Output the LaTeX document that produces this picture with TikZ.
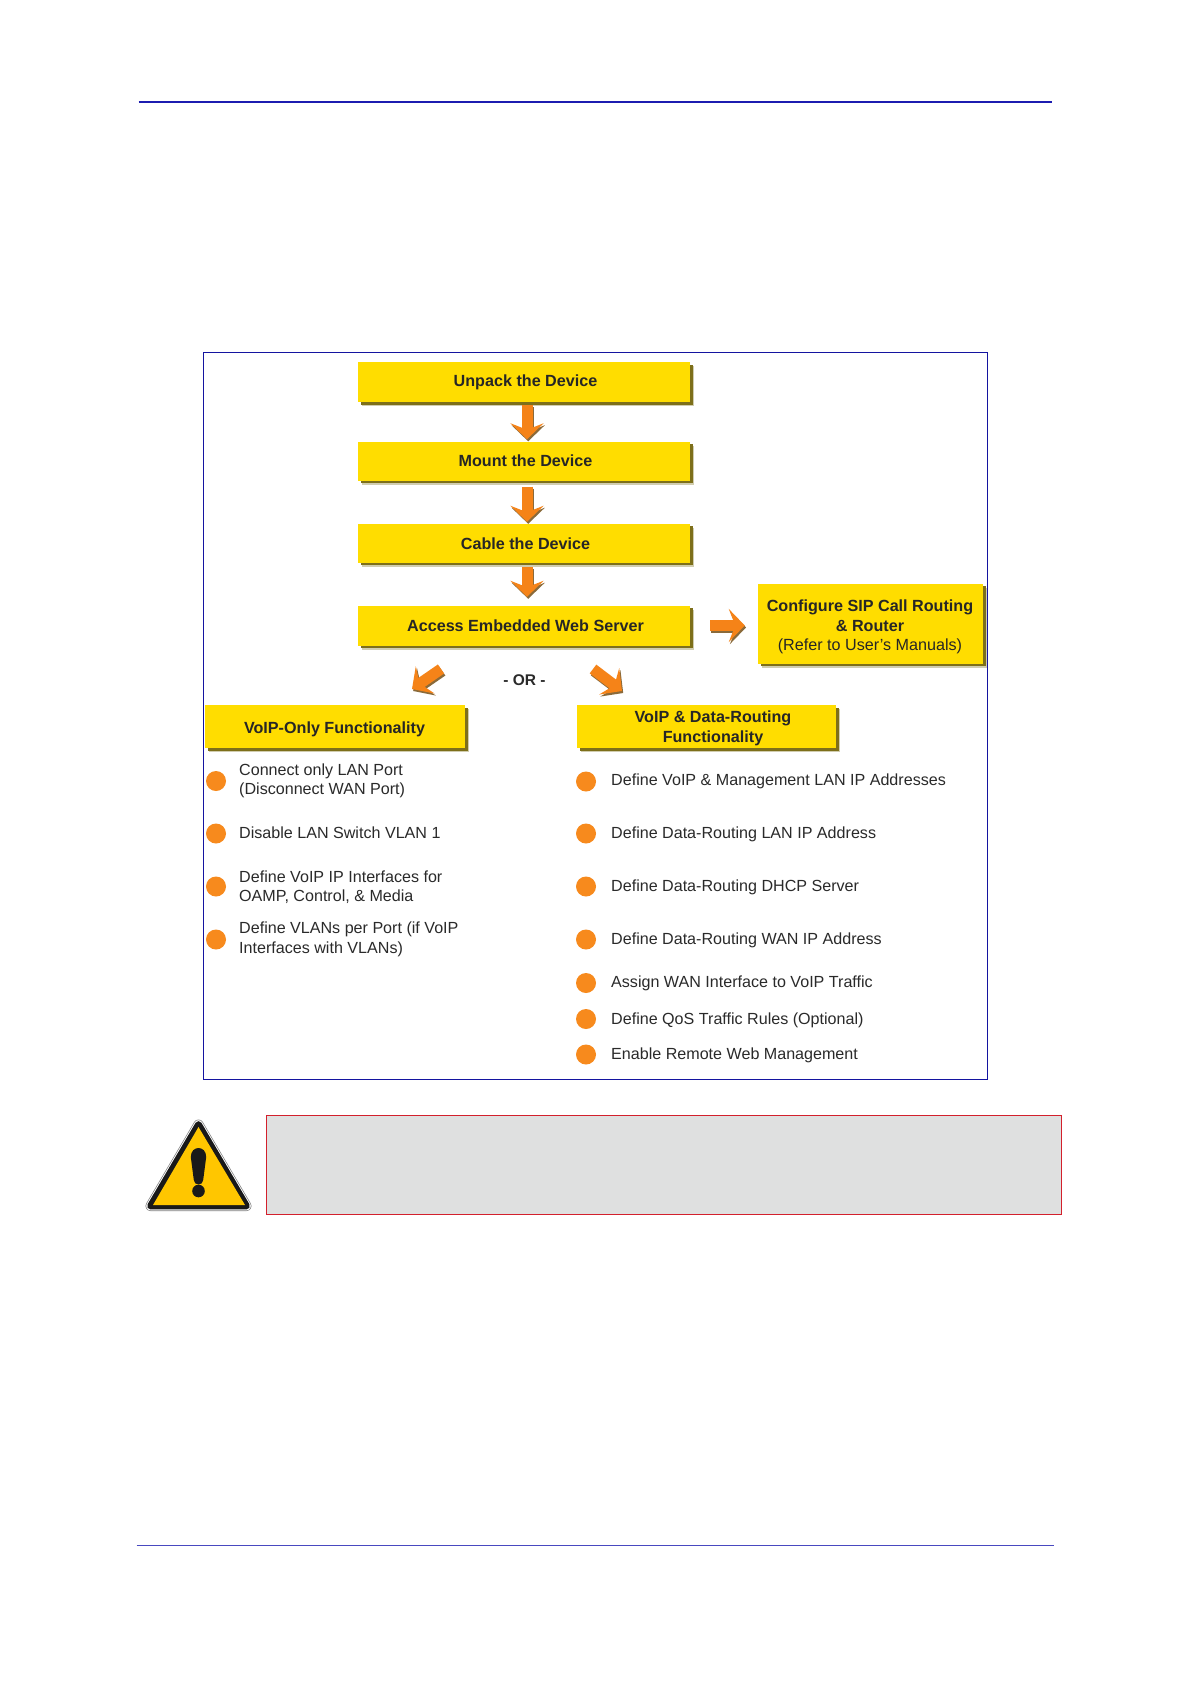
\documentclass[tikz,border=0pt]{standalone}
\usepackage{fontspec}
\setmainfont{Liberation Sans}
\usetikzlibrary{arrows.meta,shadows,calc}
\definecolor{boxyellow}{HTML}{FFDD00}
\definecolor{boxshadow}{HTML}{7D6F1A}
\definecolor{arroworange}{HTML}{F58318}
\definecolor{arrowshadow}{HTML}{8A6A3A}
\definecolor{bulletorange}{HTML}{F78A1D}
\definecolor{framecolor}{HTML}{1414A0}
\definecolor{ruleblue}{HTML}{1C1CB0}
\definecolor{notegrey}{HTML}{DFE0E0}
\definecolor{notered}{HTML}{D3202C}
\definecolor{signyellow}{HTML}{FFC600}
\definecolor{inktext}{HTML}{2A2A2A}
\tikzset{
  flowbox/.style={fill=boxyellow,inner sep=0pt,
    general shadow={shadow xshift=4pt,shadow yshift=-4pt,fill=boxshadow!35},
    general shadow={shadow xshift=2.6pt,shadow yshift=-2.6pt,fill=boxshadow}},
  boxtext/.style={inner sep=0pt,align=center,text=black!85,
    font=\fontsize{16.15}{19.6}\selectfont\bfseries},
  bulletdot/.style={circle,fill=bulletorange,minimum size=20pt,inner sep=0pt},
  itemtext/.style={anchor=west,inner sep=0pt,align=left,text=inktext,
    font=\fontsize{16.1}{19.5}\selectfont},
  blockbase/.style={line width=11pt,-{Stealth[length=16pt,width=33pt,inset=6.5pt]}},
  blockarrow/.style={blockbase,draw=arroworange},
  blockshade/.style={blockbase,draw=arrowshadow,
    transform canvas={xshift=1.2pt,yshift=-2pt}}
}
\begin{document}
\begin{tikzpicture}[x=1pt,y=-1pt]
\useasboundingbox[fill=white] (0,0) rectangle (1190,1684);
% page rules
\coordinate (topL) at (138.5,102); \coordinate (topR) at (1052,102);
\coordinate (botL) at (136.5,1545.5); \coordinate (botR) at (1054,1545.5);
\draw[ruleblue,line width=1.4pt] (topL) -- (topR);
\draw[ruleblue!80!white,line width=1pt] (botL) -- (botR);
% frame
\draw[framecolor,line width=1pt] (203.5,352.5) rectangle (987.5,1079.5);
% flow boxes
\node[flowbox,minimum width=332pt,minimum height=40pt] (unpack) at (524,382) {};
\node[flowbox,minimum width=332pt,minimum height=39pt] (mount) at (524,461) {};
\node[flowbox,minimum width=332pt,minimum height=39pt] (cable) at (524,543) {};
\node[flowbox,minimum width=332pt,minimum height=40pt] (access) at (524,625.5) {};
\node[flowbox,minimum width=225pt,minimum height=80pt] (config) at (870.5,623.5) {};
\node[flowbox,minimum width=260pt,minimum height=43pt] (voiponly) at (335,726.5) {};
\node[flowbox,minimum width=259pt,minimum height=43pt] (voipdata) at (706.5,726.5) {};
\node[boxtext] (unpackT) at ([xshift=1.5pt]unpack.center) {Unpack the Device};
\node[boxtext] (mountT) at ([xshift=1.5pt]mount.center) {Mount the Device};
\node[boxtext] (cableT) at ([xshift=1.5pt,yshift=-0.5pt]cable.center) {Cable the Device};
\node[boxtext] (accessT) at ([xshift=1.5pt,yshift=-0.5pt]access.center) {Access Embedded Web Server};
\node[boxtext] (configT) at ([xshift=-0.5pt,yshift=-3.5pt]config.center)
  {Configure SIP Call Routing\\ \& Router\\ \normalfont(Refer to User's Manuals)};
\node[boxtext] (voiponlyT) at ([xshift=-0.5pt,yshift=-3pt]voiponly.center) {VoIP-Only Functionality};
\node[boxtext] (voipdataT) at ([xshift=6.5pt,yshift=-2pt]voipdata.center) {VoIP \& Data-Routing\\ Functionality};
\node[inner sep=0pt,text=inktext,font=\fontsize{15.5}{18}\selectfont\bfseries] (ortext) at (524.5,680) {- OR -};
% connectors
\coordinate (dlS) at (441,669); \coordinate (dlE) at (412,689);
\coordinate (drS) at (593,669); \coordinate (drE) at (622,691);
\foreach \sty in {blockshade,blockarrow}{
  \draw[\sty] ([xshift=3pt,yshift=-3pt]unpack.south) -- ([xshift=3pt,yshift=2pt]mount.north);
  \draw[\sty] ([xshift=3pt,yshift=-6pt]mount.south) -- ([xshift=3pt,yshift=1.5pt]cable.north);
  \draw[\sty] ([xshift=3pt,yshift=-4.5pt]cable.south) -- ([xshift=3pt,yshift=8.5pt]access.north);
  \draw[\sty] ([xshift=20pt]access.east) -- ([xshift=-13pt]config.west |- access.east);
  \draw[\sty] (dlS) -- (dlE);
  \draw[\sty] (drS) -- (drE);
}
% left list
\node[bulletdot] (l1) at (216,781) {};
\node[itemtext] (lt1) at (239,781) {Connect only LAN Port\\(Disconnect WAN Port)};
\node[bulletdot] (l2) at (216,833.5) {};
\node[itemtext] (lt2) at (239,832.5) {Disable LAN Switch VLAN 1};
\node[bulletdot] (l3) at (216,886.5) {};
\node[itemtext] (lt3) at (239,887) {Define VoIP IP Interfaces for\\OAMP, Control, \& Media};
\node[bulletdot] (l4) at (216,939.5) {};
\node[itemtext] (lt4) at (239,939.5) {Define VLANs per Port (if VoIP\\Interfaces with VLANs)};
% right list
\node[bulletdot] (r1) at (586,781.5) {};
\node[itemtext] (rt1) at (611,781.2) {Define VoIP \& Management LAN IP Addresses};
\node[bulletdot] (r2) at (586,833.5) {};
\node[itemtext] (rt2) at (611,834.5) {Define Data-Routing LAN IP Address};
\node[bulletdot] (r3) at (586,886.5) {};
\node[itemtext] (rt3) at (611,887) {Define Data-Routing DHCP Server};
\node[bulletdot] (r4) at (586,939.5) {};
\node[itemtext] (rt4) at (611,940) {Define Data-Routing WAN IP Address};
\node[bulletdot] (r5) at (586,983) {};
\node[itemtext] (rt5) at (611,983.5) {Assign WAN Interface to VoIP Traffic};
\node[bulletdot] (r6) at (586,1019) {};
\node[itemtext] (rt6) at (611,1020.5) {Define QoS Traffic Rules (Optional)};
\node[bulletdot] (r7) at (586,1054.5) {};
\node[itemtext] (rt7) at (611,1055.5) {Enable Remote Web Management};
% note box
\draw[notered,fill=notegrey,line width=1pt] (266.5,1115.5) rectangle (1061,1214);
% warning sign
\draw[gray,line width=10pt,line join=round] (198.5,1124.5) -- (246.5,1206) -- (150.5,1206) -- cycle;
\draw[white,line width=8.6pt,line join=round] (198.5,1124.5) -- (246.5,1206) -- (150.5,1206) -- cycle;
\draw[black!90,line width=6.8pt,line join=round] (198.5,1124.5) -- (246.5,1206) -- (150.5,1206) -- cycle;
\fill[signyellow] (198.5,1127) -- (245,1205) -- (153,1205) -- cycle;
\fill[black!90] (190.8,1157) .. controls (190.8,1145) and (206.2,1145) .. (206.2,1157)
  -- (203.2,1180) .. controls (203,1186) and (194,1186) .. (193.8,1180) -- cycle;
\fill[black!90] (198.5,1191) circle[radius=6.3];
\end{tikzpicture}
\end{document}
